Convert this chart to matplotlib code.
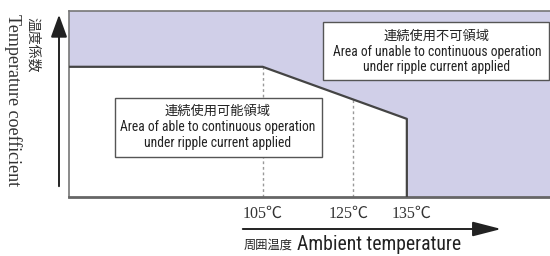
#!/usr/bin/env python3
import matplotlib
matplotlib.use('Agg')
from matplotlib import pyplot as plt
from matplotlib import font_manager
from matplotlib.patches import FancyArrowPatch

# derating curve: ambient temperature (deg C, schematic) vs temperature coefficient
curve_temp = [60, 105, 137, 137]
curve_coef = [0.70, 0.70, 0.42, 0.0]
dash_temps = [105, 125]
tick_temps = [105, 124, 138]
tick_labels = ['105℃', '125℃', '135℃']

x_lo, x_hi = 62.0, 170.0
y_lo, y_hi = 0.0, 1.0

W, H = 550, 256
LAVENDER = '#d0cfe8'
EDGE = '#444444'
CJK = ['Noto Sans CJK JP', 'DejaVu Sans']
SERIF = ['Liberation Serif', 'Noto Sans CJK JP']

names = {f.name for f in font_manager.fontManager.ttflist}
narrow = next((n for n in ('Liberation Sans Narrow', 'DejaVu Sans Condensed', 'Roboto Condensed',
                           'Open Sans Condensed') if n in names), 'Liberation Sans')
NARROW = [narrow, 'Noto Sans CJK JP']
nsize = 9.8 if narrow != 'Liberation Sans' else 8.5


def px(x, y):
    return x / W, 1 - y / H


fig = plt.figure(figsize=(W / 100, H / 100), dpi=100)
ax = fig.add_axes([69 / W, 1 - 197 / H, 1 - 69 / W + 0.01, 186 / H])
ax.set_xlim(x_lo, x_hi)
ax.set_ylim(y_lo, y_hi)
ax.set_facecolor(LAVENDER)
ax.set_xticks([])
ax.set_yticks([])
for s in ax.spines.values():
    s.set_color('#777777')
    s.set_linewidth(1.2)
ax.spines['bottom'].set_linewidth(2)
ax.spines['bottom'].set_color('#666666')

# white "usable" area under the curve
ax.fill_between(curve_temp, curve_coef, 0, color='white', zorder=1)
ax.plot(curve_temp, curve_coef, color=EDGE, lw=1.6, zorder=3)

for t in dash_temps:
    c = curve_coef[0] if t <= curve_temp[1] else \
        curve_coef[1] + (curve_coef[2] - curve_coef[1]) * (t - curve_temp[1]) / (curve_temp[2] - curve_temp[1])
    ax.plot([t, t], [0, c], color='#999999', lw=1, ls=(0, (2, 2)), zorder=2)

# annotation boxes (pixel layout)
boxes = [
    ((115, 98, 207, 59), 218, ('連続使用可能領域', 'Area of able to continuous operation',
                               'under ripple current applied'), (111, 127, 143)),
    ((323, 22, 226, 58), 437, ('連続使用不可領域', 'Area of unable to continuous operation',
                               'under ripple current applied'), (36, 52, 67)),
]
for (bx, by, bw, bh), cx, lines, ys in boxes:
    fig.add_artist(plt.Rectangle(px(bx, by + bh), bw / W, bh / H, transform=fig.transFigure,
                                 fc='white', ec='#555555', lw=1, zorder=5))
    fig.text(*px(cx, ys[0]), lines[0], ha='center', va='center', fontsize=9.5,
             family=CJK, color='#222222', zorder=6)
    for line, y in zip(lines[1:], ys[1:]):
        fig.text(*px(cx, y), line, ha='center', va='center', fontsize=nsize,
                 family=NARROW, color='#222222', zorder=6)

# axis arrows
fig.add_artist(FancyArrowPatch(px(59, 189), px(59, 12), transform=fig.transFigure,
                               arrowstyle='-|>,head_length=5.5,head_width=2',
                               color='#222222', lw=1.4, mutation_scale=2.5))
fig.add_artist(FancyArrowPatch(px(240, 229), px(504, 229), transform=fig.transFigure,
                               arrowstyle='-|>,head_length=7,head_width=1.8',
                               color='#222222', lw=1.4, mutation_scale=2.5))

fig.text(*px(13, 100), 'Temperature coefficient', rotation=270, ha='center', va='center',
         fontsize=13, family=SERIF, color='#333333')
fig.text(*px(33, 45), '温度係数', rotation=270, ha='center', va='center',
         fontsize=10, family=CJK, color='#333333')

for t, lab in zip(tick_temps, tick_labels):
    xf = ax.transData.transform((t, 0))[0] / fig.bbox.width
    fig.text(xf, px(0, 214)[1], lab, ha='center', va='center', fontsize=11.5,
             family=SERIF, color='#333333')

fig.text(*px(244, 245), '周囲温度', ha='left', va='center', fontsize=8.8,
         family=CJK, color='#222222')
fig.text(*px(297, 245), 'Ambient temperature', ha='left', va='center',
         fontsize=nsize * 1.45, family=NARROW, color='#222222')

fig.savefig('out.png', dpi=100)
